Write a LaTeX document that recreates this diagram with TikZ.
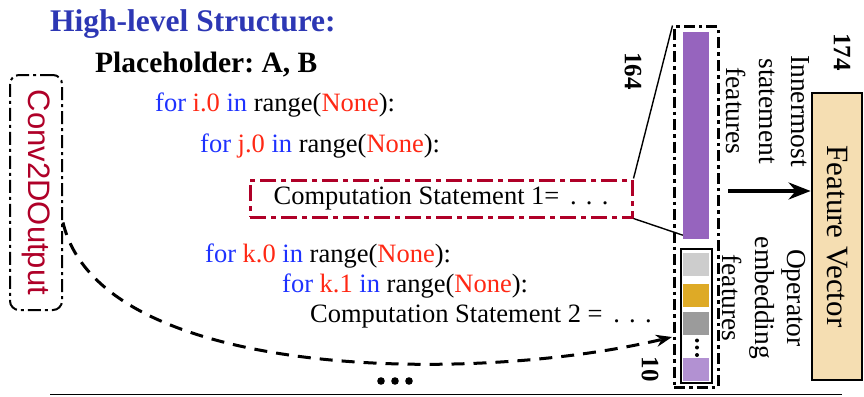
\documentclass[tikz,border=0pt]{standalone}
\usepackage{fontspec}
\setmainfont{Liberation Serif}
\newfontfamily\arialf{Liberation Sans}
\usepackage{graphicx}
\usetikzlibrary{arrows.meta,calc}
\definecolor{titleblue}{RGB}{45,55,180}
\definecolor{kwblue}{RGB}{30,50,255}
\definecolor{varred}{RGB}{255,40,20}
\definecolor{darkred}{RGB}{175,0,40}
\definecolor{barpurple}{RGB}{150,100,190}
\definecolor{lightpurple}{RGB}{178,145,210}
\definecolor{wheatfill}{RGB}{245,222,178}
\definecolor{lgray}{RGB}{205,205,205}
\definecolor{mgray}{RGB}{155,155,155}
\definecolor{gold}{RGB}{222,170,38}
\newcommand{\kwd}[1]{\textcolor{kwblue}{#1}}
\newcommand{\vard}[1]{\textcolor{varred}{#1}}
\newcommand{\spdots}{.\hspace{0.35em}.\hspace{0.35em}.}
\frenchspacing
\begin{document}
\begin{tikzpicture}[x=1pt,y=-1pt,
  codeline/.style={anchor=base west, inner sep=0pt, font=\fontsize{26.5}{30}\selectfont},
  rotlab/.style={rotate=-90, inner sep=0pt, align=center, font=\fontsize{27.5}{32.5}\selectfont},
  numlab/.style={rotate=-90, inner sep=0pt, font=\fontsize{25}{30}\selectfont\bfseries},
  reddashdot/.style={draw=darkred, line width=3pt, dash pattern=on 16pt off 5pt on 5pt off 5pt},
  blackdashdot/.style={draw=black, line width=3pt, dash pattern=on 11pt off 4pt on 3.5pt off 4pt},
  thinline/.style={draw=black, line width=1.4pt}]
\useasboundingbox (0,0) rectangle (864,396);

% title texts
\node[anchor=base west, inner sep=0pt, text=titleblue, font=\fontsize{31.5}{36}\selectfont\bfseries] (title) at (50,32) {High-level Structure:};
\node[anchor=base west, inner sep=0pt, font=\fontsize{29.5}{34}\selectfont\bfseries] (ph) at (95,73) {Placeholder: A, B};

% code lines
\node[codeline] (fi) at (155,111) {\kwd{for} \vard{i.0} \kwd{in} range(\vard{None}):};
\node[codeline] (fj) at (200,152) {\kwd{for} \vard{j.0} \kwd{in} range(\vard{None}):};
\node[reddashdot, minimum width=382pt, minimum height=37pt, inner sep=0pt,
      font=\fontsize{26.5}{30}\selectfont] (cs1) at (441,198.5) {Computation Statement 1=\hspace{0.4em}\spdots};
\node[codeline] (fk0) at (205,262) {\kwd{for} \vard{k.0} \kwd{in} range(\vard{None}):};
\node[codeline] (fk1) at (282,292) {\kwd{for} \vard{k.1} \kwd{in} range(\vard{None}):};
\node[codeline] (cs2) at (310,322) {Computation Statement 2 =\hspace{0.4em}\spdots};

% bottom dots and line
\fill (381,381) circle (3.8pt) (395,381) circle (3.8pt) (409,381) circle (3.8pt);
\coordinate (bl) at (50,394.5);
\coordinate (br) at (842,394.5);
\draw[line width=1.6pt] (bl) -- (br);

% Conv2DOutput
\node[draw, line width=2pt, rounded corners=9pt, dash pattern=on 13pt off 4pt on 3pt off 4pt,
      minimum width=52pt, minimum height=235pt, inner sep=0pt, text=darkred,
      font=\arialf\fontsize{31}{36}\selectfont] (conv) at (36,192.5) {\rotatebox{-90}{Conv2DOutput}};

% right structure
\node[blackdashdot, minimum width=44pt, minimum height=360pt, inner sep=0pt] (outer) at (696,207) {};
\node[fill=barpurple, minimum width=26pt, minimum height=207pt, inner sep=0pt] (bar) at (696,135.5) {};
\node[draw, line width=2.2pt, minimum width=31pt, minimum height=134pt, inner sep=0pt] (ops) at (696.5,316) {};
\node[fill=lgray, minimum width=26pt, minimum height=23pt, inner sep=0pt] (b1) at (696,264.5) {};
\node[fill=gold, minimum width=26pt, minimum height=23pt, inner sep=0pt] (b2) at (696,295.5) {};
\node[fill=mgray, minimum width=26pt, minimum height=23pt, inner sep=0pt] (b3) at (696,323.5) {};
\fill (697,340.5) circle (2pt) (697,347.5) circle (2pt) (697,355) circle (2pt);
\node[fill=lightpurple, minimum width=26pt, minimum height=23pt, inner sep=0pt] (b4) at (696,369.5) {};

\draw[thinline] (cs1.north east) -- (outer.north west);
\draw[thinline] (cs1.south east) -- ([yshift=4pt]bar.south west);

\node[numlab] (n164) at (633,71) {164};
\node[numlab] (n174) at (842,52) {174};
\node[numlab] (n10) at (650,369) {10};

\node[rotlab] (inner) at (768,111) {Innermost\\statement\\features};
\node[rotlab] (opemb) at (764,298) {Operator\\embedding\\features};

\node[draw, line width=2.8pt, fill=wheatfill, minimum width=50pt, minimum height=287pt, inner sep=0pt,
      font=\fontsize{31}{36}\selectfont] (fv) at (837,236.5) {\rotatebox{-90}{Feature Vector}};

\coordinate (as) at (728,191);
\draw[line width=3.5pt, -{Stealth[length=22pt,width=17pt]}] (as) -- (as -| fv.west);

% dashed curved arrow
\coordinate (cend) at (672,337);
\draw[line width=3pt, dash pattern=on 13pt off 9pt, -{Stealth[length=16pt,width=12pt]}]
  ([yshift=-30pt]conv.east) .. controls (100,380) and (470,385) .. (cend);
\end{tikzpicture}
\end{document}
